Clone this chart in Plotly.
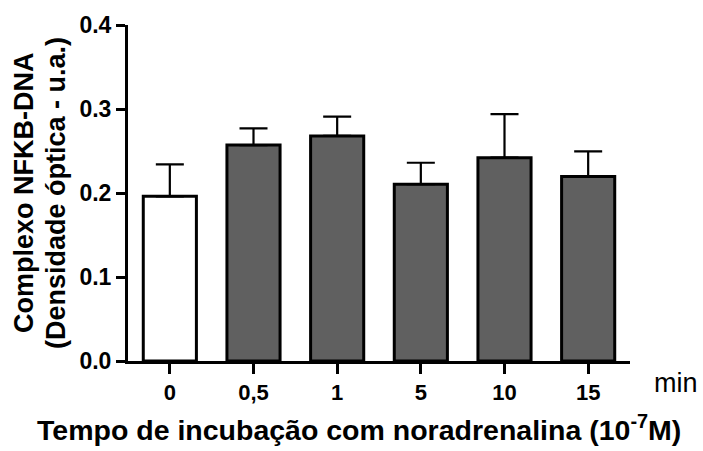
import plotly.graph_objects as go

categories = ["0", "0,5", "1", "5", "10", "15"]
means = [0.196, 0.257, 0.268, 0.2105, 0.242, 0.2195]
sem = [0.038, 0.020, 0.023, 0.0255, 0.052, 0.030]
fill_colors = ["#ffffff", "#606060", "#606060", "#606060", "#606060", "#606060"]
y_ticks = [0.0, 0.1, 0.2, 0.3, 0.4]
y_ticktext = ["0.0", "0.1", "0.2", "0.3", "0.4"]

FONT = "Liberation Sans, Arial, sans-serif"

fig = go.Figure()
fig.add_trace(go.Bar(
    x=categories, y=means,
    width=0.635,
    marker=dict(color=fill_colors, line=dict(color="black", width=3)),
    error_y=dict(type="data", array=sem, arrayminus=[0] * len(sem), symmetric=False,
                 color="black", thickness=2.2, width=14),
    showlegend=False,
))

fig.update_layout(
    width=703, height=451,
    margin=dict(l=128, r=73, t=25, b=90),
    plot_bgcolor="white", paper_bgcolor="white",
    font=dict(family=FONT, color="black"),
)
fig.update_xaxes(
    type="category", range=[-0.5, 5.5],
    showline=True, linecolor="black", linewidth=3,
    ticks="outside", ticklen=10, tickwidth=3, tickcolor="black",
    tickfont=dict(size=22, family=FONT, weight="bold"),
    showgrid=False, zeroline=False,
)
fig.update_yaxes(
    range=[0, 0.4], tickvals=y_ticks, ticktext=y_ticktext,
    showline=True, linecolor="black", linewidth=3,
    ticks="outside", ticklen=9, tickwidth=3, tickcolor="black",
    tickfont=dict(size=23, family=FONT, weight="bold"),
    showgrid=False, zeroline=False,
)

fig.add_annotation(text="<b>Complexo NFKB-DNA</b>", textangle=-90,
                   xref="paper", yref="paper", x=0, y=0.5,
                   xshift=-104, xanchor="center", yanchor="middle",
                   showarrow=False, font=dict(size=27))
fig.add_annotation(text="<b>(Densidade óptica - u.a.)</b>", textangle=-90,
                   xref="paper", yref="paper", x=0, y=0.5,
                   xshift=-72, xanchor="center", yanchor="middle",
                   showarrow=False, font=dict(size=27))
fig.add_annotation(text="<b>Tempo de incubação com noradrenalina (10<sup>-7</sup>M)</b>",
                   xref="paper", yref="paper", x=0.46, y=0,
                   yshift=-67, xanchor="center", yanchor="middle",
                   showarrow=False, font=dict(size=28.5))
fig.add_annotation(text="min", xref="paper", yref="paper", x=1, y=0,
                   xshift=22, yshift=-22, xanchor="left", yanchor="middle",
                   showarrow=False, font=dict(size=27))

fig.write_html("out.html")
